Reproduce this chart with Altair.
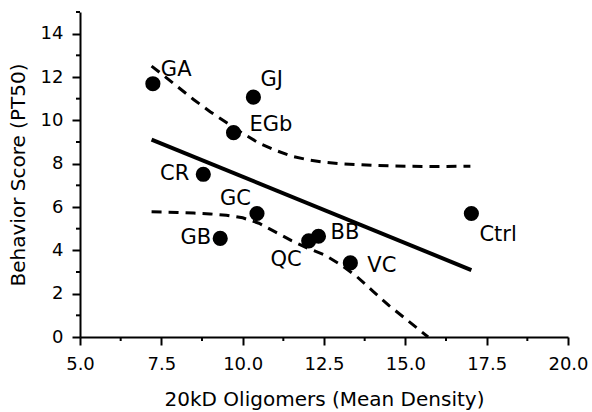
import altair as alt
import pandas as pd

# ---- data ----
labels = ["GA", "GJ", "EGb", "CR", "GC", "GB", "QC", "BB", "VC", "Ctrl"]
oligomers = [7.24, 10.33, 9.72, 8.79, 10.44, 9.31, 12.03, 12.33, 13.31, 17.03]
behavior = [11.69, 11.07, 9.43, 7.51, 5.70, 4.55, 4.44, 4.65, 3.42, 5.70]

fit_x = [7.2, 17.03]
fit_y = [9.11, 3.09]

upper_x = [7.2, 7.5, 8.0, 8.5, 9.0, 9.5, 10.0, 10.5, 11.0, 11.5, 12.0, 12.5, 13.0, 14.0, 15.0, 16.0, 17.0]
upper_y = [12.5, 12.15, 11.55, 10.95, 10.4, 9.9, 9.4, 8.95, 8.62, 8.35, 8.18, 8.07, 8.0, 7.92, 7.88, 7.87, 7.88]

lower_x = [7.2, 8.0, 8.5, 9.0, 9.5, 10.0, 10.5, 11.0, 11.5, 12.0, 12.5, 13.0, 13.5, 14.0, 14.5, 15.0, 15.7]
lower_y = [5.78, 5.75, 5.72, 5.68, 5.62, 5.5, 5.25, 4.85, 4.45, 4.1, 3.8, 3.35, 2.8, 2.12, 1.45, 0.85, 0.0]

x_major = [5.0, 7.5, 10.0, 12.5, 15.0, 17.5, 20.0]
x_minor = [6.25, 8.75, 11.25, 13.75, 16.25, 18.75]
y_major = [0, 2, 4, 6, 8, 10, 12, 14]
y_minor = [1, 3, 5, 7, 9, 11, 13, 15]

# ---- layout / styling ----
W, H = 488, 325
FONT = "DejaVu Sans"
label_style = {
    "GA": ("left", 8, -14),
    "GJ": ("left", 7, -17),
    "EGb": ("left", 16, -8),
    "CR": ("right", -14, 0),
    "GC": ("right", -6, -15),
    "GB": ("right", -9, 0),
    "QC": ("right", -7, 19),
    "BB": ("left", 12, -3),
    "VC": ("left", 17, 3),
    "Ctrl": ("left", 8, 21),
}

pts = pd.DataFrame({"label": labels, "x": oligomers, "y": behavior})
fit = pd.DataFrame({"x": fit_x, "y": fit_y})
up = pd.DataFrame({"x": upper_x, "y": upper_y})
lo = pd.DataFrame({"x": lower_x, "y": lower_y})
xm = pd.DataFrame({"x": x_minor})
ym = pd.DataFrame({"y": y_minor})

xs = alt.Scale(domain=[5, 20], nice=False, zero=False)
ys = alt.Scale(domain=[0, 15], nice=False, zero=True)

axis_common = dict(
    grid=False, domainColor="black", domainWidth=2, tickColor="black", tickWidth=2,
    tickSize=8, labelColor="black", labelFont=FONT, labelFontSize=18,
    titleColor="black", titleFont=FONT, titleFontSize=20, titleFontWeight="normal",
)

x_axis = alt.Axis(values=x_major, format=".1f", labelPadding=10, titlePadding=16,
                  title="20kD Oligomers (Mean Density)", labelFlush=False, **axis_common)
y_axis = alt.Axis(values=y_major, format="d", labelPadding=9, titlePadding=12,
                  title="Behavior Score (PT50)", **axis_common)

X = alt.X("x:Q", scale=xs, axis=x_axis)
Y = alt.Y("y:Q", scale=ys, axis=y_axis)

points = alt.Chart(pts).mark_point(filled=True, color="black", opacity=1, size=230, shape="circle").encode(x=X, y=Y)

fit_line = alt.Chart(fit).mark_line(color="black", strokeWidth=4).encode(x=X, y=Y)
up_line = alt.Chart(up).mark_line(color="black", strokeWidth=3, strokeDash=[10, 7]).encode(x=X, y=Y)
lo_line = alt.Chart(lo).mark_line(color="black", strokeWidth=3, strokeDash=[10, 7]).encode(x=X, y=Y)

xminor = alt.Chart(xm).mark_rule(color="black", strokeWidth=2).encode(
    x=X, y=alt.value(H), y2=alt.value(H + 4))
yminor = alt.Chart(ym).mark_rule(color="black", strokeWidth=2).encode(
    y=Y, x=alt.value(0), x2=alt.value(-4))

texts = []
for name, (al, dx, dy) in label_style.items():
    texts.append(
        alt.Chart(pts).transform_filter(alt.datum.label == name).mark_text(
            align=al, baseline="middle", dx=dx, dy=dy, font=FONT, fontSize=21, color="black"
        ).encode(x=X, y=Y, text="label:N")
    )

chart = alt.layer(points, fit_line, up_line, lo_line, xminor, yminor, *texts).properties(
    width=W, height=H,
    autosize=alt.AutoSizeParams(type="none"),
    padding={"left": 80, "top": 12, "right": 24, "bottom": 75},
    background="white",
).configure_view(stroke=None)

chart.save("out.html", embed_options={"renderer": "svg", "actions": False})
